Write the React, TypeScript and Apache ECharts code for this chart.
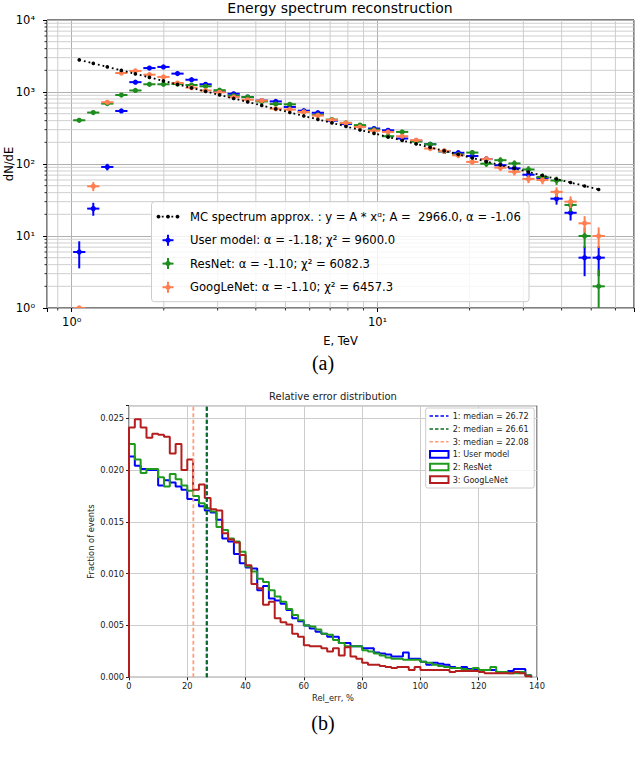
import React, { useEffect, useRef } from 'react';
import * as echarts from 'echarts';

// ---------- (a) Energy spectrum reconstruction ----------
const ENERGY = [1.058, 1.176, 1.307, 1.453, 1.615, 1.795, 1.995, 2.218, 2.465, 2.74, 3.045, 3.385, 3.762, 4.182, 4.648, 5.166, 5.742, 6.383, 7.094, 7.885, 8.765, 9.742, 10.83, 12.04, 13.38, 14.87, 16.53, 18.37, 20.42, 22.7, 25.23, 28.04, 31.17, 34.64, 38.51, 42.8, 47.57, 52.88];
const MC_FIT = [2794, 2498, 2233, 1996, 1785, 1595, 1426, 1275, 1140, 1019, 911, 814, 728, 651, 582, 520, 465, 416, 372, 332, 297, 266, 237, 212, 190, 170, 152, 136, 121, 108, 96.9, 86.6, 77.4, 69.2, 61.9, 55.3, 49.5, 44.2];
const USER_MODEL = [6, 24, 91, 545, 1370, 2150, 2230, 1800, 1480, 1280, 1010, 944, 850, 760, 740, 620, 550, 515, 400, 360, 335, 311, 294, 226, 210, 188, 150, 143, 129, 117, 96, 87, 71, 64, 33, 21, 5, 5];
const RESNET = [405, 518, 690, 908, 1050, 1280, 1280, 1290, 1250, 1200, 1060, 890, 850, 740, 680, 675, 528, 480, 414, 372, 347, 300, 243, 279, 205, 188, 150, 135, 144, 101, 113, 102, 84, 66, 59, 27, 10, 2];
const GOOGLENET = [1, 49, 720, 1835, 1960, 1740, 1620, 1333, 1150, 1050, 990, 850, 780, 760, 585, 570, 528, 470, 410, 372, 327, 290, 279, 243, 214, 164, 152, 132, 107, 117, 89, 78, 62, 60, 41, 30, 15, 10];
const X_MINOR_TICKS = [0.9, 2, 3, 4, 5, 6, 7, 8, 9, 20, 30, 40, 50, 60];
const Y_MINOR_TICKS = [2, 3, 4, 5, 6, 7, 8, 9, 20, 30, 40, 50, 60, 70, 80, 90, 200, 300, 400, 500, 600, 700, 800, 900, 2000, 3000, 4000, 5000, 6000, 7000, 8000, 9000];
const LEGEND_A = [
  'MC spectrum approx. : y = A * x\u1D45; A =  2966.0, \u03B1 = -1.06',
  'User model: \u03B1 = -1.18; \u03C7\u00B2 = 9600.0',
  'ResNet: \u03B1 = -1.10; \u03C7\u00B2 = 6082.3',
  'GoogLeNet: \u03B1 = -1.10; \u03C7\u00B2 = 6457.3',
];

// ---------- (b) Relative error distribution ----------
const BIN_WIDTH = 2;
const HIST_USER = [0.0213, 0.0204, 0.0201, 0.02, 0.02, 0.0185, 0.019, 0.0188, 0.0184, 0.0181, 0.0172, 0.0171, 0.0165, 0.0161, 0.0159, 0.0152, 0.0134, 0.0131, 0.0119, 0.011, 0.0106, 0.0105, 0.0084, 0.0088, 0.0076, 0.0074, 0.0071, 0.0065, 0.0057, 0.0054, 0.005, 0.0047, 0.0044, 0.0042, 0.0039, 0.0039, 0.0033, 0.0033, 0.003, 0.003, 0.0028, 0.0028, 0.0024, 0.0023, 0.0022, 0.002, 0.002, 0.0024, 0.0018, 0.0018, 0.0015, 0.0012, 0.0014, 0.0013, 0.0012, 0.001, 0.0009, 0.001, 0.0008, 0.0008, 0.0007, 0.0007, 0.0007, 0.0005, 0.0005, 0.0006, 0.0008, 0.0008, 0.0002];
const HIST_RESNET = [0.0225, 0.021, 0.0197, 0.0201, 0.0201, 0.0193, 0.0184, 0.0196, 0.0191, 0.0185, 0.018, 0.0175, 0.0168, 0.0163, 0.016, 0.0145, 0.0142, 0.0134, 0.0131, 0.0121, 0.0107, 0.0102, 0.0095, 0.0092, 0.0084, 0.0078, 0.0073, 0.0066, 0.006, 0.0055, 0.005, 0.0049, 0.0046, 0.0042, 0.0041, 0.0036, 0.0033, 0.003, 0.003, 0.003, 0.0026, 0.0025, 0.0023, 0.0021, 0.0019, 0.0018, 0.0018, 0.0017, 0.0017, 0.0017, 0.0015, 0.0014, 0.0012, 0.0011, 0.001, 0.0009, 0.0009, 0.0008, 0.0007, 0.0009, 0.0007, 0.0007, 0.001, 0.0005, 0.0005, 0.0004, 0.0004, 0.0005, 0.0002];
const HIST_GOOGLENET = [0.0241, 0.0249, 0.0241, 0.0231, 0.0235, 0.0234, 0.0232, 0.0216, 0.0225, 0.02, 0.021, 0.0181, 0.0186, 0.0173, 0.0162, 0.0161, 0.0139, 0.0133, 0.013, 0.0118, 0.0108, 0.009, 0.0086, 0.007, 0.0073, 0.0057, 0.0053, 0.0051, 0.0042, 0.0039, 0.0031, 0.003, 0.003, 0.0028, 0.0025, 0.0028, 0.0021, 0.0029, 0.002, 0.0018, 0.0014, 0.0012, 0.0012, 0.0011, 0.001, 0.0009, 0.001, 0.001, 0.0007, 0.001, 0.0007, 0.0007, 0.0007, 0.0007, 0.0007, 0.0005, 0.0006, 0.0006, 0.0006, 0.0006, 0.0005, 0.0004, 0.0004, 0.0004, 0.0004, 0.0004, 0.0005, 0.0004, 0.0001];
const MEDIANS = [26.72, 26.61, 22.08];
const LEGEND_B_MEDIANS = ['1: median = 26.72', '2: median = 26.61', '3: median = 22.08'];
const LEGEND_B_HIST = ['1: User model', '2: ResNet', '3: GoogLeNet'];

const F = '"DejaVu Sans", Verdana, sans-serif';
const SERIF = '"Liberation Serif", "DejaVu Serif", serif';
const C_BLUE = '#0000ff';
const C_GREEN = '#1e8c1e';
const C_ORANGE = '#ff7f50';
const C_RED = '#b41e1e';
const MEDIAN_COLORS = ['#0000ff', '#0b6e22', '#ffa07a'];
const HIST_COLORS = [C_BLUE, '#1f9a1f', C_RED];
const SUP = ['\u2070', '\u00B9', '\u00B2', '\u00B3', '\u2074', '\u2075'];
const Y_MAX_B = 0.0262;

function pow10Label(v: number) {
  const p = Math.log10(v);
  const r = Math.round(p);
  if (Math.abs(p - r) > 1e-6 || r < 0) return '';
  return '10' + SUP[r];
}

function errRender(color: string) {
  return (params: any, api: any) => {
    const x = api.value(0), y = api.value(1);
    const c = api.coord([x, y]);
    const p1 = api.coord([api.value(2), y]);
    const p2 = api.coord([api.value(3), y]);
    const st = { stroke: color, lineWidth: 2 };
    const children: any[] = [
      { type: 'line', shape: { x1: p1[0], y1: p1[1], x2: p2[0], y2: p2[1] }, style: st },
    ];
    const lo = api.value(4), hi = api.value(5);
    if (lo > 0) {
      const p3 = api.coord([x, lo]);
      const p4 = api.coord([x, hi]);
      children.push({ type: 'line', shape: { x1: p3[0], y1: p3[1], x2: p4[0], y2: p4[1] }, style: st });
    }
    children.push({ type: 'circle', shape: { cx: c[0], cy: c[1], r: 2.6 }, style: { fill: color } });
    return { type: 'group', children };
  };
}

const XF = 1.047;
function errData(vals: number[]) {
  return ENERGY.map((e, i) => {
    const y = vals[i];
    const s = Math.sqrt(y);
    // on a log axis an error bar reaching zero cannot be drawn (as in matplotlib)
    return [e, y, e / XF, e * XF, y - s > 1e-9 ? y - s : 0, y + s];
  });
}

function stepData(vals: number[]) {
  const pts: number[][] = [[0, 0]];
  vals.forEach((v, i) => pts.push([i * BIN_WIDTH, v]));
  pts.push([vals.length * BIN_WIDTH, 0]);
  return pts;
}

function buildOption() {
  const graphic: any[] = [];
  graphic.push({ type: 'text', x: 340, y: 8, z: 100, style: { text: 'Energy spectrum reconstruction', fontSize: 14, fontFamily: F, fill: '#000', align: 'center', verticalAlign: 'middle' } });
  graphic.push({ type: 'text', x: 8.5, y: 164, rotation: Math.PI / 2, z: 100, style: { text: 'dN/dE', fontSize: 11.5, fontFamily: F, fill: '#000', align: 'center', verticalAlign: 'middle' } });
  graphic.push({ type: 'text', x: 333, y: 396.7, z: 100, style: { text: 'Relative error distribution', fontSize: 10, fontFamily: F, fill: '#222', align: 'center', verticalAlign: 'middle' } });
  graphic.push({ type: 'text', x: 323, y: 363, z: 100, style: { text: '(a)', fontSize: 20, fontFamily: SERIF, fill: '#000', align: 'center', verticalAlign: 'middle' } });
  graphic.push({ type: 'text', x: 323, y: 723, z: 100, style: { text: '(b)', fontSize: 20, fontFamily: SERIF, fill: '#000', align: 'center', verticalAlign: 'middle' } });

  // legend (a)
  graphic.push({ type: 'rect', z: 99, shape: { x: 151.5, y: 201.7, width: 377.5, height: 100, r: 3 }, style: { fill: 'rgba(255,255,255,0.82)', stroke: '#cccccc', lineWidth: 1 } });
  const rowsA = [216.7, 240.2, 263.6, 287.2];
  const colsA = ['#000', C_BLUE, C_GREEN, C_ORANGE];
  rowsA.forEach((ry, i) => {
    if (i === 0) {
      graphic.push({ type: 'line', z: 100, shape: { x1: 157, y1: ry, x2: 179, y2: ry }, style: { stroke: '#000', lineWidth: 1.8, lineDash: [1.8, 3] } });
      [158.5, 168, 177.5].forEach((cx) => graphic.push({ type: 'circle', z: 100, shape: { cx, cy: ry, r: 1.9 }, style: { fill: '#000' } }));
    } else {
      const c = colsA[i];
      graphic.push({ type: 'line', z: 100, shape: { x1: 162.5, y1: ry, x2: 173.5, y2: ry }, style: { stroke: c, lineWidth: 2 } });
      graphic.push({ type: 'line', z: 100, shape: { x1: 168, y1: ry - 5.5, x2: 168, y2: ry + 5.5 }, style: { stroke: c, lineWidth: 2 } });
      graphic.push({ type: 'circle', z: 100, shape: { cx: 168, cy: ry, r: 2.6 }, style: { fill: c } });
    }
    graphic.push({ type: 'text', z: 100, x: 190, y: ry, style: { text: LEGEND_A[i], fontSize: 11.6, fontFamily: F, fill: '#000', align: 'left', verticalAlign: 'middle' } });
  });

  // legend (b)
  graphic.push({ type: 'rect', z: 99, shape: { x: 425.7, y: 408, width: 108.5, height: 80, r: 2 }, style: { fill: 'rgba(255,255,255,0.82)', stroke: '#cccccc', lineWidth: 1 } });
  const rowsB = [416, 429, 441.7, 454.4, 467, 479.6];
  rowsB.forEach((ry, i) => {
    if (i < 3) {
      graphic.push({ type: 'line', z: 100, shape: { x1: 429.5, y1: ry, x2: 448.5, y2: ry }, style: { stroke: MEDIAN_COLORS[i], lineWidth: 1.5, lineDash: [3.5, 2] } });
      graphic.push({ type: 'text', z: 100, x: 452.7, y: ry, style: { text: LEGEND_B_MEDIANS[i], fontSize: 8.1, fontFamily: F, fill: '#222', align: 'left', verticalAlign: 'middle' } });
    } else {
      const k = i - 3;
      graphic.push({ type: 'rect', z: 100, shape: { x: 430, y: ry - 3.3, width: 18.5, height: 6.6 }, style: { fill: 'none', stroke: HIST_COLORS[k], lineWidth: 2 } });
      graphic.push({ type: 'text', z: 100, x: 452.7, y: ry, style: { text: LEGEND_B_HIST[k], fontSize: 8.1, fontFamily: F, fill: '#222', align: 'left', verticalAlign: 'middle' } });
    }
  });

  const minorX = {
    type: 'custom', xAxisIndex: 0, yAxisIndex: 0, silent: true, z: 1, clip: false,
    data: X_MINOR_TICKS.map((v) => [v, 10]),
    encode: { x: 0, y: 1 },
    renderItem: (params: any, api: any) => {
      const cs = params.coordSys;
      const px = api.coord([api.value(0), 10])[0];
      return {
        type: 'group',
        children: [
          { type: 'line', shape: { x1: px, y1: cs.y, x2: px, y2: cs.y + cs.height }, style: { stroke: '#c9c9c9', lineWidth: 0.9 } },
          { type: 'line', shape: { x1: px, y1: cs.y + cs.height, x2: px, y2: cs.y + cs.height + 2.5 }, style: { stroke: '#000', lineWidth: 0.8 } },
        ],
      };
    },
  };
  const minorY = {
    type: 'custom', xAxisIndex: 0, yAxisIndex: 0, silent: true, z: 1, clip: false,
    data: Y_MINOR_TICKS.map((v) => [1, v]),
    encode: { x: 0, y: 1 },
    renderItem: (params: any, api: any) => {
      const cs = params.coordSys;
      const py = api.coord([1, api.value(1)])[1];
      return {
        type: 'group',
        children: [
          { type: 'line', shape: { x1: cs.x, y1: py, x2: cs.x + cs.width, y2: py }, style: { stroke: '#c9c9c9', lineWidth: 0.9 } },
          { type: 'line', shape: { x1: cs.x - 2.5, y1: py, x2: cs.x, y2: py }, style: { stroke: '#000', lineWidth: 0.8 } },
        ],
      };
    },
  };

  const errSeries = (name: string, vals: number[], color: string, z: number) => ({
    type: 'custom', name, xAxisIndex: 0, yAxisIndex: 0, z, clip: true,
    data: errData(vals),
    encode: { x: 0, y: 1 },
    renderItem: errRender(color),
  });

  const histSeries = (name: string, vals: number[], color: string, z: number) => ({
    type: 'line', name, xAxisIndex: 1, yAxisIndex: 1, step: 'end', z,
    data: stepData(vals), showSymbol: false, symbol: 'none',
    lineStyle: { color, width: 2 }, silent: true,
  });

  const medianSeries = (m: number, color: string, z: number) => ({
    type: 'line', xAxisIndex: 1, yAxisIndex: 1, z,
    data: [[m, 0], [m, Y_MAX_B]], showSymbol: false, symbol: 'none',
    lineStyle: { color, width: 1.8, type: [4, 2.5] }, silent: true,
  });

  return {
    animation: false,
    backgroundColor: '#ffffff',
    grid: [
      { left: 47, top: 20, width: 587, height: 288, show: true, borderColor: '#000', borderWidth: 1, backgroundColor: 'transparent', containLabel: false, outerBoundsMode: 'none' },
      { left: 129, top: 405.7, width: 408, height: 271.6, show: true, borderColor: '#222', borderWidth: 1, backgroundColor: 'transparent', containLabel: false, outerBoundsMode: 'none' },
    ],
    xAxis: [
      {
        type: 'log', gridIndex: 0, logBase: 10, min: 0.83, max: 69,
        name: 'E, TeV', nameLocation: 'middle', nameGap: 27, nameMoveOverlap: false,
        nameTextStyle: { fontSize: 11.5, fontFamily: F, color: '#000' },
        axisLine: { show: false },
        axisTick: { show: true, length: 4, lineStyle: { color: '#000', width: 1 } },
        axisLabel: { formatter: pow10Label, fontSize: 11.5, fontFamily: F, color: '#000', margin: 8 },
        splitLine: { show: true, lineStyle: { color: '#b0b0b0', width: 1 } },
      },
      {
        type: 'value', gridIndex: 1, min: 0, max: 140, interval: 20,
        name: 'Rel_err, %', nameLocation: 'middle', nameGap: 17, nameMoveOverlap: false,
        nameTextStyle: { fontSize: 8.3, fontFamily: F, color: '#222' },
        axisLine: { show: false },
        axisTick: { show: true, length: 3, lineStyle: { color: '#222' } },
        axisLabel: { fontSize: 8.3, fontFamily: F, color: '#222', margin: 5 },
        splitLine: { show: true, lineStyle: { color: '#cccccc', width: 1 } },
      },
    ],
    yAxis: [
      {
        type: 'log', gridIndex: 0, logBase: 10, min: 1, max: 10000,
        axisLine: { show: false },
        axisTick: { show: true, length: 4, lineStyle: { color: '#000', width: 1 } },
        axisLabel: { formatter: pow10Label, fontSize: 11.5, fontFamily: F, color: '#000', margin: 12 },
        splitLine: { show: true, lineStyle: { color: '#b0b0b0', width: 1 } },
      },
      {
        type: 'value', gridIndex: 1, min: 0, max: Y_MAX_B, interval: 0.005,
        name: 'Fraction of events', nameLocation: 'middle', nameGap: 34, nameMoveOverlap: false,
        nameTextStyle: { fontSize: 8.3, fontFamily: F, color: '#222' },
        axisLine: { show: false },
        axisTick: { show: true, length: 3, lineStyle: { color: '#222' } },
        axisLabel: {
          fontSize: 8.3, fontFamily: F, color: '#222', margin: 5,
          formatter: (v: number) => {
            const k = v / 0.005;
            return Math.abs(k - Math.round(k)) < 1e-6 ? v.toFixed(3) : '';
          },
        },
        splitLine: { show: true, lineStyle: { color: '#cccccc', width: 1 } },
      },
    ],
    series: [
      minorX,
      minorY,
      errSeries('User model', USER_MODEL, C_BLUE, 4),
      errSeries('ResNet', RESNET, C_GREEN, 5),
      errSeries('GoogLeNet', GOOGLENET, C_ORANGE, 6),
      {
        type: 'line', name: 'MC spectrum approx.', xAxisIndex: 0, yAxisIndex: 0, z: 7,
        data: ENERGY.map((e, i) => [e, MC_FIT[i]]),
        symbol: 'circle', symbolSize: 3.6, showSymbol: true,
        itemStyle: { color: '#000' },
        lineStyle: { color: '#000', width: 1.8, type: [1.8, 3] }, silent: true,
      },
      histSeries('1: User model', HIST_USER, HIST_COLORS[0], 3),
      histSeries('2: ResNet', HIST_RESNET, HIST_COLORS[1], 4),
      histSeries('3: GoogLeNet', HIST_GOOGLENET, HIST_COLORS[2], 5),
      medianSeries(MEDIANS[0], MEDIAN_COLORS[0], 6),
      medianSeries(MEDIANS[1], MEDIAN_COLORS[1], 7),
      medianSeries(MEDIANS[2], MEDIAN_COLORS[2], 8),
    ],
    graphic,
  };
}

export default function App() {
  const ref = useRef<HTMLDivElement>(null);
  useEffect(() => {
    if (!ref.current) return;
    const chart = echarts.init(ref.current, undefined, { renderer: 'svg' });
    chart.setOption(buildOption() as any);
    return () => chart.dispose();
  }, []);
  return <div ref={ref} style={{ position: 'absolute', left: 0, top: 0, width: 640, height: 766, background: '#fff' }} />;
}
